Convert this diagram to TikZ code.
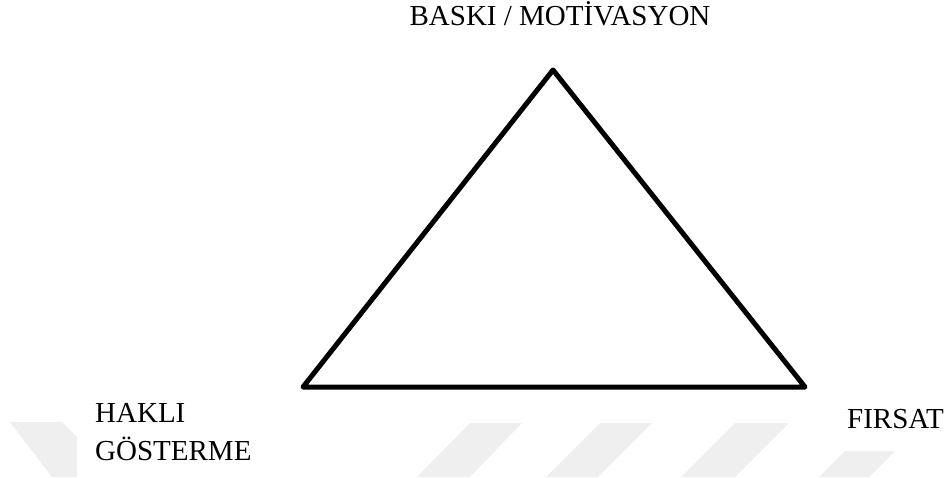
\documentclass[tikz,border=0pt]{standalone}
\usepackage{fontspec}
\setmainfont{Liberation Serif}
\usepackage{xcolor}
\definecolor{wmGrey}{HTML}{EFEFEF}
\usepackage{tikz}
\usetikzlibrary{positioning}

\begin{document}
\begin{tikzpicture}[x=1pt,y=-1pt,
      every node/.style={font=\fontsize{29}{38}\selectfont},
      corner/.style={inner sep=0pt,align=left},
      side/.style={line width=5pt,line join=round,line cap=round,black},
      band/.style={fill=wmGrey,draw=none},
    ]
    \useasboundingbox (0,0) rectangle (952,477);

    % faint stripes along the bottom edge
    \fill[band] (10,422) -- (62,422) -- (77,437) -- (77,477) -- (52,477) -- cycle;
    \fill[band] (470,423) -- (522,423) -- (470,477) -- (417,477) -- cycle;
    \fill[band] (600,423) -- (652,423) -- (598,477) -- (546,477) -- cycle;
    \fill[band] (735,423) -- (789,423) -- (735,477) -- (681,477) -- cycle;
    \fill[band] (845,451) -- (895,451) -- (869,477) -- (819,477) -- cycle;

    % the three corners
    \coordinate (top) at (553,70);
    \coordinate (left) at (303,387);
    \coordinate (right) at (805,387);

    % triangle
    \draw[side] (top) -- (right) -- (left) -- cycle;

    % Top: pressure / motivation
    \node[corner,anchor=base] (baski) at (560,25) {BASKI / MOTİVASYON};

    % Bottom left: rationalisation
    \node[corner,anchor=north west] (hakli) at (95,403) {HAKLI\\GÖSTERME};

    % Bottom right: opportunity
    \node[corner,anchor=base west] (firsat) at (847,428) {FIRSAT};

  \end{tikzpicture}
\end{document}
